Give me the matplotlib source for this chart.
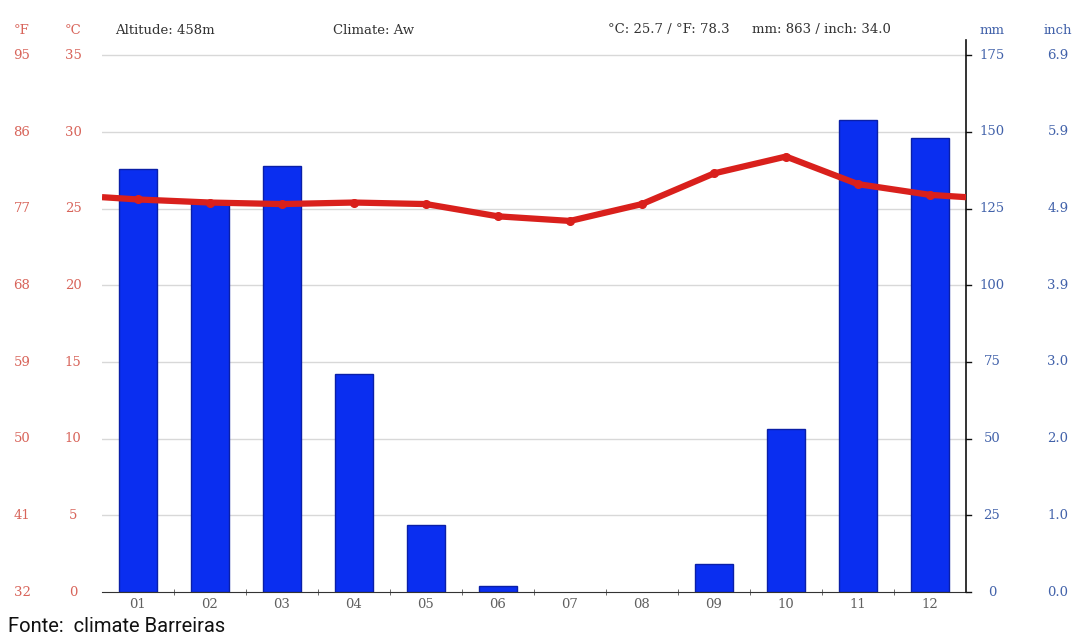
"""
Climate chart for Barreiras: monthly precipitation bars (mm) and
mean temperature line (°C), climate-data.org style.
"""

import matplotlib
matplotlib.use("Agg")
import matplotlib.pyplot as plt
import matplotlib.transforms as mtransforms
import numpy as np

months = ["01", "02", "03", "04", "05", "06", "07", "08", "09", "10", "11", "12"]
precip_mm = [138, 127, 139, 71, 22, 2, 0, 0, 9, 53, 154, 148]
temp_c = [25.6, 25.4, 25.3, 25.4, 25.3, 24.5, 24.2, 25.3, 27.3, 28.4, 26.6, 25.9]

c_ticks = [0, 5, 10, 15, 20, 25, 30, 35]
f_labels = ["32", "41", "50", "59", "68", "77", "86", "95"]
mm_ticks = [0, 25, 50, 75, 100, 125, 150, 175]
inch_labels = ["0.0", "1.0", "2.0", "3.0", "3.9", "4.9", "5.9", "6.9"]

header_left = ["Altitude: 458m", "Climate: Aw"]
header_right = ["°C: 25.7 / °F: 78.3", "mm: 863 / inch: 34.0"]
source = "Fonte:  climate Barreiras"

RED = "#d9201c"
TEMP_LABEL = "#d8645a"
BLUE = "#0a2ef0"
BLUE_EDGE = "#0a1fa8"
AXIS_BLUE = "#4262aa"
GREY_TXT = "#606060"
SERIF = "DejaVu Serif"
FS = 9.5


def generate_climate_chart():
    fig = plt.figure(figsize=(10.8, 6.37), dpi=100)
    ax = fig.add_axes([102 / 1080, 1 - 592 / 637, 864 / 1080, 552 / 637])
    axt = ax.twinx()

    x = np.arange(len(months))

    # precipitation bars on the mm axis (no outline on empty months)
    edge_w = [1.0 if p > 0 else 0.0 for p in precip_mm]
    ax.bar(x, precip_mm, width=0.52, color=BLUE, edgecolor=BLUE_EDGE,
           linewidth=edge_w, zorder=2)
    ax.set_xlim(-0.5, len(months) - 0.5)
    ax.set_ylim(0, 180)

    for v in mm_ticks[1:]:
        ax.axhline(v, color="#d8d8d8", linewidth=1.0, zorder=0)

    # temperature line, extended to the edges with the Dec/Jan mean
    edge = (temp_c[0] + temp_c[-1]) / 2
    tx = np.concatenate([[-0.5], x, [len(months) - 0.5]])
    ty = np.concatenate([[edge], temp_c, [edge]])
    axt.plot(tx, ty, color=RED, linewidth=4.5, solid_capstyle="butt",
             zorder=3)
    axt.plot(x, temp_c, "o", color=RED, markersize=5.5, zorder=4)
    axt.set_ylim(0, 36)
    axt.set_zorder(ax.get_zorder() + 1)
    axt.patch.set_visible(False)

    # spines
    for a in (ax, axt):
        a.spines["top"].set_visible(False)
        a.spines["left"].set_visible(False)
        a.spines["right"].set_visible(False)
    axt.spines["bottom"].set_visible(False)
    ax.spines["bottom"].set_color("#333333")
    axt.spines["right"].set_visible(True)
    axt.spines["right"].set_color("#111111")
    axt.spines["right"].set_linewidth(1.2)

    # month labels and boundary ticks
    ax.set_xticks(x)
    ax.set_xticklabels(months, fontfamily=SERIF, fontsize=FS, color=GREY_TXT)
    ax.tick_params(axis="x", length=0, pad=4)
    ax.set_xticks(np.arange(0.5, len(months) - 0.5, 1.0), minor=True)
    ax.tick_params(axis="x", which="minor", length=4, direction="inout",
                   color="#555555")
    ax.set_yticks([])
    axt.set_yticks([])

    # left temperature labels
    lt = mtransforms.blended_transform_factory(fig.transFigure, axt.transData)
    for c, f in zip(c_ticks, f_labels):
        axt.text(22 / 1080, c, f, transform=lt, ha="center", va="center",
                 fontfamily=SERIF, fontsize=FS, color=TEMP_LABEL)
        axt.text(73 / 1080, c, str(c), transform=lt, ha="center",
                 va="center", fontfamily=SERIF, fontsize=FS, color=TEMP_LABEL)

    # right precipitation labels
    rt = mtransforms.blended_transform_factory(fig.transFigure, ax.transData)
    tick_tr = mtransforms.blended_transform_factory(ax.transAxes, ax.transData)
    for m, inch in zip(mm_ticks, inch_labels):
        ax.text(992 / 1080, m, str(m), transform=rt, ha="center",
                va="center", fontfamily=SERIF, fontsize=FS, color=AXIS_BLUE)
        ax.text(1058 / 1080, m, inch, transform=rt, ha="center",
                va="center", fontfamily=SERIF, fontsize=FS, color=AXIS_BLUE)
        ax.plot([1.0, 1.006], [m, m], transform=tick_tr,
                color="#111111", linewidth=1, clip_on=False)

    # header row
    hy = 1 - 30 / 637
    fig.text(22 / 1080, hy, "°F", ha="center", va="center",
             fontfamily=SERIF, fontsize=FS, color=TEMP_LABEL)
    fig.text(73 / 1080, hy, "°C", ha="center", va="center",
             fontfamily=SERIF, fontsize=FS, color=TEMP_LABEL)
    fig.text(992 / 1080, hy, "mm", ha="center", va="center",
             fontfamily=SERIF, fontsize=FS, color=AXIS_BLUE)
    fig.text(1058 / 1080, hy, "inch", ha="center", va="center",
             fontfamily=SERIF, fontsize=FS, color=AXIS_BLUE)
    for xs, txt in zip([115, 333], header_left):
        fig.text(xs / 1080, hy, txt, ha="left", va="center",
                 fontfamily=SERIF, fontsize=FS, color="#333333")
    for xs, txt in zip([608, 752], header_right):
        fig.text(xs / 1080, hy, txt, ha="left", va="center",
                 fontfamily=SERIF, fontsize=FS, color="#333333")

    fig.text(8 / 1080, 1 - 626 / 637, source, ha="left", va="center",
             fontfamily="Roboto", fontsize=14.5, color="#111111")

    fig.savefig("out.png", dpi=100)


if __name__ == "__main__":
    generate_climate_chart()
